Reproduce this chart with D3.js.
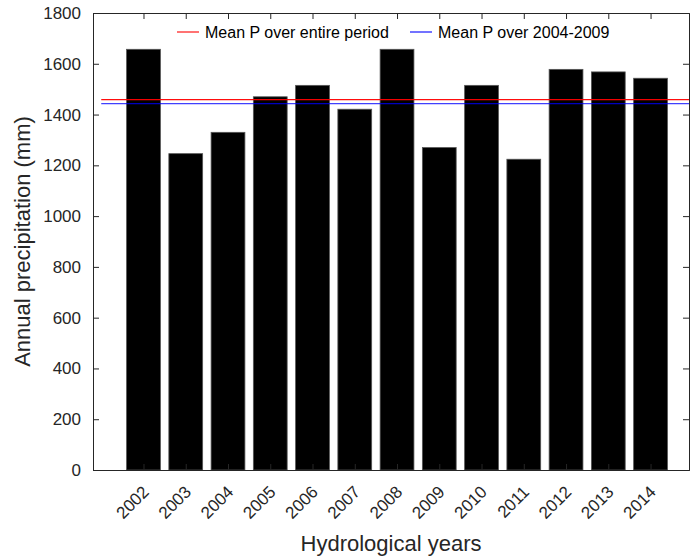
<!DOCTYPE html>
<html>
<head>
<meta charset="utf-8">
<script src="https://cdn.jsdelivr.net/npm/d3@7"></script>
<style>
  body { margin: 0; background: #fff; }
  svg { font-family: "Liberation Sans", Arial, sans-serif; }
</style>
</head>
<body>
<div id="chart"></div>
<script>
const anos = [2002, 2003, 2004, 2005, 2006, 2007, 2008, 2009, 2010, 2011, 2012, 2013, 2014];
const precip = [1657, 1246, 1330, 1470, 1515, 1421, 1657, 1270, 1515, 1224, 1578, 1568, 1543];
const yTicks = [0, 200, 400, 600, 800, 1000, 1200, 1400, 1600, 1800];
const medias = [
  { nome: 'Mean P over entire period', valor: 1459, cor: '#ff0000' },
  { nome: 'Mean P over 2004-2009', valor: 1443, cor: '#0000ff' }
];

const largura = 691, altura = 559;
const m = { top: 13, right: 2, bottom: 89, left: 93 };

const svg = d3.select('#chart')
  .append('svg')
  .attr('width', largura)
  .attr('height', altura);

const x = d3.scaleLinear()
  .domain([2000.805, 2014.91])
  .range([m.left, largura - m.right]);
const y = d3.scaleLinear()
  .domain([0, 1800])
  .range([altura - m.bottom, m.top]);

const passo = x(2003) - x(2002);
const barW = passo * 0.8;

svg.append('clipPath').attr('id', 'clip')
  .append('rect')
  .attr('x', m.left).attr('y', m.top)
  .attr('width', largura - m.left - m.right)
  .attr('height', altura - m.top - m.bottom);

// barras
svg.append('g')
  .selectAll('rect')
  .data(anos)
  .enter()
  .append('rect')
  .attr('x', (d) => x(d) - barW / 2)
  .attr('y', (d, i) => y(precip[i]))
  .attr('width', barW)
  .attr('height', (d, i) => y(0) - y(precip[i]))
  .attr('fill', '#000')
  .attr('stroke', '#555')
  .attr('stroke-width', 0.8);

// linhas de média
svg.append('g')
  .attr('clip-path', 'url(#clip)')
  .selectAll('line')
  .data(medias)
  .enter()
  .append('line')
  .attr('x1', x(2001))
  .attr('x2', x(2016))
  .attr('y1', d => y(d.valor))
  .attr('y2', d => y(d.valor))
  .attr('stroke', d => d.cor)
  .attr('stroke-opacity', (d, i) => i === 0 ? 0.95 : 0.75)
  .attr('stroke-width', 1.4);

// eixos
const yAxis = svg.append('g')
  .attr('transform', `translate(${m.left},0)`)
  .call(d3.axisLeft(y).tickValues(yTicks).tickFormat(d3.format('d')).tickSize(-6).tickPadding(12));
yAxis.selectAll('text').style('font-size', '17px').attr('fill', '#262626');

const xAxis = svg.append('g')
  .attr('transform', `translate(0,${y(0)})`)
  .call(d3.axisBottom(x).tickValues(anos).tickFormat(d3.format('d')).tickSize(-6));
xAxis.selectAll('text')
  .style('font-size', '17px')
  .attr('fill', '#262626')
  .attr('text-anchor', 'end')
  .attr('dy', 0)
  .attr('y', 0)
  .attr('x', 0)
  .attr('transform', 'translate(6,23) rotate(-45)');

svg.append('g')
  .attr('transform', `translate(0,${m.top})`)
  .call(d3.axisTop(x).tickValues(anos).tickFormat('').tickSize(-6));
svg.append('g')
  .attr('transform', `translate(${largura - m.right},0)`)
  .call(d3.axisRight(y).tickValues(yTicks).tickFormat('').tickSize(-6));

svg.selectAll('.domain').attr('stroke', '#262626');
svg.selectAll('.tick line').attr('stroke', '#262626');

// legenda
const leg = svg.append('g');
const legX = [177, 410];
medias.forEach((d, i) => {
  const g = leg.append('g').attr('transform', `translate(${legX[i]},32)`);
  g.append('line')
    .attr('x1', 0).attr('x2', 22)
    .attr('stroke', d.cor)
    .attr('stroke-opacity', 0.55)
    .attr('stroke-width', 2);
  g.append('text')
    .attr('x', 28)
    .attr('dy', '0.35em')
    .style('font-size', '16px')
    .attr('fill', '#000')
    .text(d.nome);
});

// títulos dos eixos
svg.append('text')
  .attr('transform', `translate(30,${(m.top + y(0)) / 2}) rotate(-90)`)
  .attr('text-anchor', 'middle')
  .style('font-size', '22px')
  .attr('fill', '#262626')
  .text('Annual precipitation (mm)');

svg.append('text')
  .attr('x', (m.left + largura - m.right) / 2)
  .attr('y', 551)
  .attr('text-anchor', 'middle')
  .style('font-size', '22px')
  .attr('fill', '#262626')
  .text('Hydrological years');
</script>
</body>
</html>
